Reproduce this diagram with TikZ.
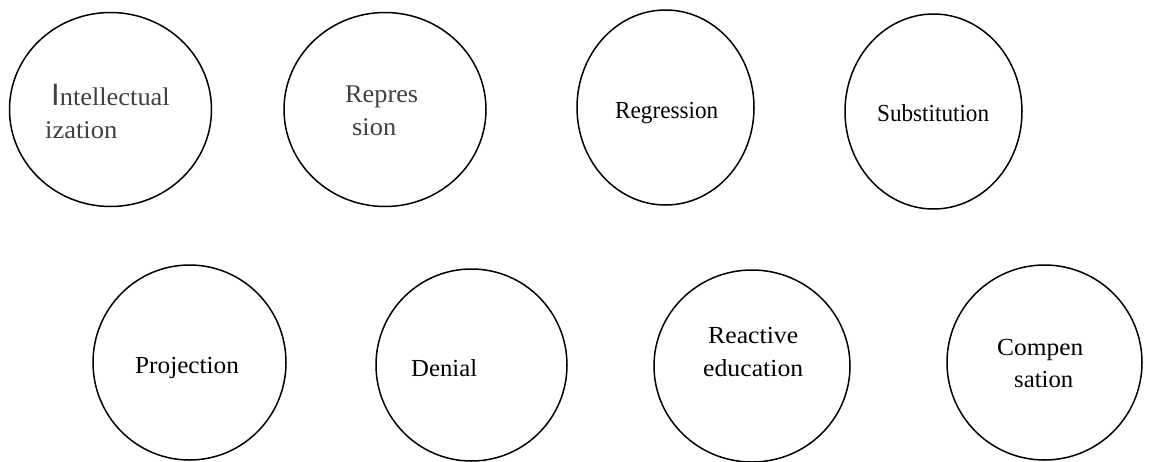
\documentclass[tikz,border=0pt]{standalone}
\usepackage{fontspec}
\usepackage{graphicx}
\setmainfont{Liberation Serif}
\newfontfamily\capsans{Liberation Sans}
\usetikzlibrary{shapes.geometric}
\definecolor{softink}{HTML}{404040}
% \lbl{size}{horizontal scale}{text}
\newcommand{\lbl}[3]{\scalebox{#2}[1]{\fontsize{#1}{#1}\selectfont #3}}
\tikzset{
  ring/.style={ellipse, draw=black, line width=1.5pt, inner sep=0pt},
  word/.style={anchor=base west, inner sep=0pt, text=black},
  softword/.style={word, text=softink}
}
\begin{document}
\begin{tikzpicture}[x=1pt,y=-1pt]
\useasboundingbox (0,0) rectangle (1157,461);
% upper row
\node[ring, minimum width=202pt, minimum height=194pt] (c1) at (110.5,109.5) {};
\node[ring, minimum width=202pt, minimum height=194pt] (c2) at (385,109.5) {};
\node[ring, minimum width=177pt, minimum height=195pt] (c3) at (665.5,107.5) {};
\node[ring, minimum width=177pt, minimum height=195pt] (c4) at (933.5,111.5) {};
% lower row
\node[ring, minimum width=193pt, minimum height=195pt] (c5) at (189.5,362.5) {};
\node[ring, minimum width=191pt, minimum height=192pt] (c6) at (471.5,365) {};
\node[ring, minimum width=196pt, minimum height=192pt] (c7) at (752,366) {};
\node[ring, minimum width=195pt, minimum height=195pt] (c8) at (1044.5,362.5) {};
% labels
\node[softword] (t1a) at (51,105) {{\capsans\fontsize{31}{31}\selectfont I}\lbl{25.5}{1.035}{ntellectual}};
\node[softword] (t1b) at (45,138) {\lbl{25.5}{1.04}{ization}};
\node[softword] (t2a) at (345,102) {\lbl{25.5}{1.03}{Repres}};
\node[softword] (t2b) at (352,135) {\lbl{25.5}{1.035}{sion}};
\node[word] (t3) at (615,118) {\lbl{24.5}{0.946}{Regression}};
\node[word] (t4) at (877,121) {\lbl{24.5}{0.945}{Substitution}};
\node[word] (t5) at (135,373) {\lbl{24.5}{1.03}{Projection}};
\node[word] (t6) at (411,376) {\lbl{24.5}{1.01}{Denial}};
\node[word] (t7a) at (708,343) {\lbl{24.5}{1.05}{Reactive}};
\node[word] (t7b) at (703,376) {\lbl{24.5}{1.05}{education}};
\node[word] (t8a) at (997,355) {\lbl{24.5}{1.036}{Compen}};
\node[word] (t8b) at (1014,387) {\lbl{24.5}{1.01}{sation}};
\end{tikzpicture}
\end{document}
